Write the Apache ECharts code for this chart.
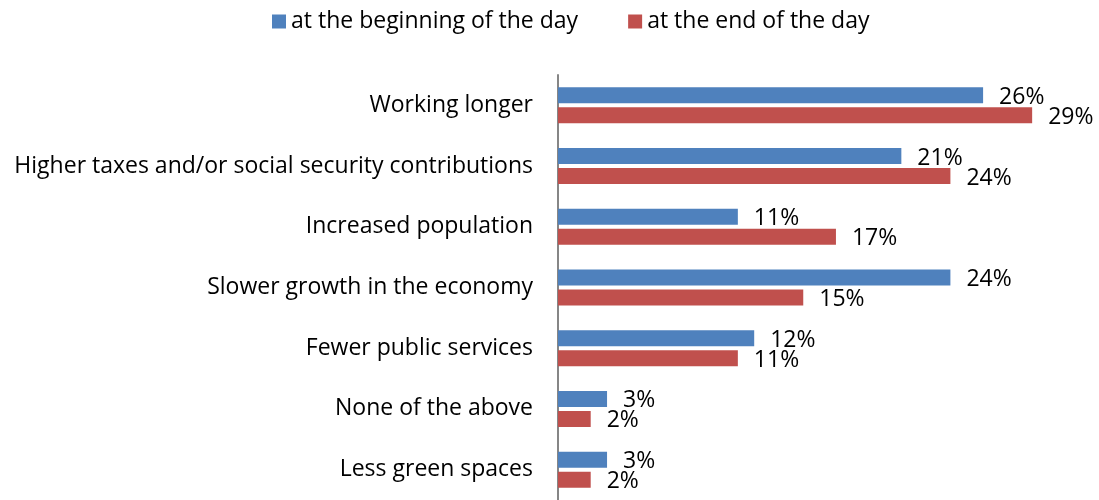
<!DOCTYPE html>
<html>
<head>
<meta charset="utf-8">
<script src="https://cdn.jsdelivr.net/npm/echarts@6/dist/echarts.min.js"></script>
<style>
  html, body { margin: 0; padding: 0; background: #ffffff; }
  #chart { width: 1099px; height: 500px; }
</style>
</head>
<body>
<div id="chart"></div>
<script>
// Survey answers, listed top to bottom
const categories = [
  'Working longer',
  'Higher taxes and/or social security contributions',
  'Increased population',
  'Slower growth in the economy',
  'Fewer public services',
  'None of the above',
  'Less green spaces'
];
const seriesNames = ['at the beginning of the day', 'at the end of the day'];
const beginningValues = [26, 21, 11, 24, 12, 3, 3];
const endValues = [29, 24, 17, 15, 11, 2, 2];

const FONT = 'Open Sans';
const FONT_SIZE = 23;
const chart = echarts.init(document.getElementById('chart'), null, { renderer: 'canvas' });

const labelStyle = {
  show: true,
  position: 'right',
  distance: 16,
  offset: [0, 2],
  color: '#000000',
  fontFamily: FONT,
  fontSize: FONT_SIZE,
  formatter: p => p.value + '%'
};

chart.setOption({
  animation: false,
  backgroundColor: '#ffffff',
  textStyle: { fontFamily: FONT },
  legend: {
    top: 5,
    left: 267,
    itemWidth: 14,
    itemHeight: 14,
    itemGap: 50,
    icon: 'rect',
    textStyle: { fontFamily: FONT, fontSize: FONT_SIZE, color: '#000000' },
    data: seriesNames
  },
  grid: {
    left: 558,
    top: 75,
    width: 490.5,
    height: 429,
    containLabel: false
  },
  xAxis: {
    type: 'value',
    min: 0,
    max: 30,
    show: false
  },
  yAxis: {
    type: 'category',
    inverse: true,
    data: categories,
    axisLine: { show: true, lineStyle: { color: '#868686', width: 2 } },
    axisTick: { show: false },
    axisLabel: {
      margin: 25,
      color: '#000000',
      fontFamily: FONT,
      fontSize: FONT_SIZE,
      padding: [8, 0, 0, 0]
    }
  },
  series: [
    {
      name: seriesNames[0],
      type: 'bar',
      data: beginningValues,
      barWidth: 16,
      barGap: '25%',
      itemStyle: { color: '#4F81BD' },
      label: labelStyle
    },
    {
      name: seriesNames[1],
      type: 'bar',
      data: endValues,
      barWidth: 16,
      barGap: '25%',
      itemStyle: { color: '#C0504D' },
      label: labelStyle
    }
  ]
});
</script>
</body>
</html>
